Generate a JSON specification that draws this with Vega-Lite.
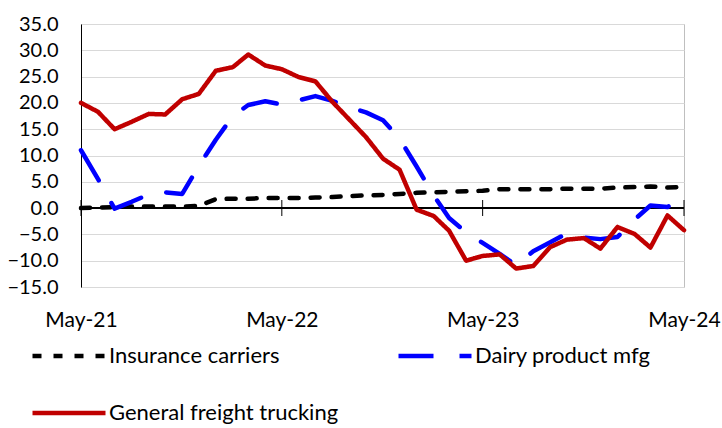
{
  "$schema": "https://vega.github.io/schema/vega-lite/v6.json",
  "width": 603,
  "height": 263,
  "autosize": "none",
  "padding": {"left": 81, "top": 24, "right": 38, "bottom": 141},
  "config": {
    "font": "Lato",
    "view": {"stroke": "#bfbfbf", "strokeWidth": 1},
    "axis": {"labelColor": "#000000", "labelFontSize": 20, "labelFont": "Lato", "labelOverlap": false},
    "axisY": {"labelOverlap": false}
  },
  "data": {
    "values": [
      {"date": "2021-05-01T00:00:00", "series": "Insurance carriers", "value": 0.0},
      {"date": "2021-06-01T00:00:00", "series": "Insurance carriers", "value": 0.1},
      {"date": "2021-07-01T00:00:00", "series": "Insurance carriers", "value": 0.2},
      {"date": "2021-08-01T00:00:00", "series": "Insurance carriers", "value": 0.3},
      {"date": "2021-09-01T00:00:00", "series": "Insurance carriers", "value": 0.3},
      {"date": "2021-10-01T00:00:00", "series": "Insurance carriers", "value": 0.3},
      {"date": "2021-11-01T00:00:00", "series": "Insurance carriers", "value": 0.3},
      {"date": "2021-12-01T00:00:00", "series": "Insurance carriers", "value": 0.4},
      {"date": "2022-01-01T00:00:00", "series": "Insurance carriers", "value": 1.7},
      {"date": "2022-02-01T00:00:00", "series": "Insurance carriers", "value": 1.8},
      {"date": "2022-03-01T00:00:00", "series": "Insurance carriers", "value": 1.8},
      {"date": "2022-04-01T00:00:00", "series": "Insurance carriers", "value": 1.9},
      {"date": "2022-05-01T00:00:00", "series": "Insurance carriers", "value": 1.9},
      {"date": "2022-06-01T00:00:00", "series": "Insurance carriers", "value": 1.9},
      {"date": "2022-07-01T00:00:00", "series": "Insurance carriers", "value": 2.0},
      {"date": "2022-08-01T00:00:00", "series": "Insurance carriers", "value": 2.1},
      {"date": "2022-09-01T00:00:00", "series": "Insurance carriers", "value": 2.3},
      {"date": "2022-10-01T00:00:00", "series": "Insurance carriers", "value": 2.4},
      {"date": "2022-11-01T00:00:00", "series": "Insurance carriers", "value": 2.5},
      {"date": "2022-12-01T00:00:00", "series": "Insurance carriers", "value": 2.7},
      {"date": "2023-01-01T00:00:00", "series": "Insurance carriers", "value": 2.9},
      {"date": "2023-02-01T00:00:00", "series": "Insurance carriers", "value": 3.0},
      {"date": "2023-03-01T00:00:00", "series": "Insurance carriers", "value": 3.1},
      {"date": "2023-04-01T00:00:00", "series": "Insurance carriers", "value": 3.2},
      {"date": "2023-05-01T00:00:00", "series": "Insurance carriers", "value": 3.3},
      {"date": "2023-06-01T00:00:00", "series": "Insurance carriers", "value": 3.6},
      {"date": "2023-07-01T00:00:00", "series": "Insurance carriers", "value": 3.6},
      {"date": "2023-08-01T00:00:00", "series": "Insurance carriers", "value": 3.6},
      {"date": "2023-09-01T00:00:00", "series": "Insurance carriers", "value": 3.6},
      {"date": "2023-10-01T00:00:00", "series": "Insurance carriers", "value": 3.7},
      {"date": "2023-11-01T00:00:00", "series": "Insurance carriers", "value": 3.7},
      {"date": "2023-12-01T00:00:00", "series": "Insurance carriers", "value": 3.7},
      {"date": "2024-01-01T00:00:00", "series": "Insurance carriers", "value": 3.9},
      {"date": "2024-02-01T00:00:00", "series": "Insurance carriers", "value": 4.0},
      {"date": "2024-03-01T00:00:00", "series": "Insurance carriers", "value": 4.1},
      {"date": "2024-04-01T00:00:00", "series": "Insurance carriers", "value": 3.9},
      {"date": "2024-05-01T00:00:00", "series": "Insurance carriers", "value": 4.0},
      {"date": "2021-05-01T00:00:00", "series": "Dairy product mfg", "value": 11.0},
      {"date": "2021-06-01T00:00:00", "series": "Dairy product mfg", "value": 5.5},
      {"date": "2021-07-01T00:00:00", "series": "Dairy product mfg", "value": -0.1},
      {"date": "2021-08-01T00:00:00", "series": "Dairy product mfg", "value": 1.2},
      {"date": "2021-09-01T00:00:00", "series": "Dairy product mfg", "value": 2.6},
      {"date": "2021-10-01T00:00:00", "series": "Dairy product mfg", "value": 3.0},
      {"date": "2021-11-01T00:00:00", "series": "Dairy product mfg", "value": 2.7},
      {"date": "2021-12-01T00:00:00", "series": "Dairy product mfg", "value": 8.0},
      {"date": "2022-01-01T00:00:00", "series": "Dairy product mfg", "value": 13.0},
      {"date": "2022-02-01T00:00:00", "series": "Dairy product mfg", "value": 17.5},
      {"date": "2022-03-01T00:00:00", "series": "Dairy product mfg", "value": 19.6},
      {"date": "2022-04-01T00:00:00", "series": "Dairy product mfg", "value": 20.3},
      {"date": "2022-05-01T00:00:00", "series": "Dairy product mfg", "value": 19.7},
      {"date": "2022-06-01T00:00:00", "series": "Dairy product mfg", "value": 20.5},
      {"date": "2022-07-01T00:00:00", "series": "Dairy product mfg", "value": 21.3},
      {"date": "2022-08-01T00:00:00", "series": "Dairy product mfg", "value": 20.4},
      {"date": "2022-09-01T00:00:00", "series": "Dairy product mfg", "value": 19.2},
      {"date": "2022-10-01T00:00:00", "series": "Dairy product mfg", "value": 18.2},
      {"date": "2022-11-01T00:00:00", "series": "Dairy product mfg", "value": 16.7},
      {"date": "2022-12-01T00:00:00", "series": "Dairy product mfg", "value": 13.2},
      {"date": "2023-01-01T00:00:00", "series": "Dairy product mfg", "value": 7.9},
      {"date": "2023-02-01T00:00:00", "series": "Dairy product mfg", "value": 2.4},
      {"date": "2023-03-01T00:00:00", "series": "Dairy product mfg", "value": -1.9},
      {"date": "2023-04-01T00:00:00", "series": "Dairy product mfg", "value": -4.6},
      {"date": "2023-05-01T00:00:00", "series": "Dairy product mfg", "value": -6.6},
      {"date": "2023-06-01T00:00:00", "series": "Dairy product mfg", "value": -8.7},
      {"date": "2023-07-01T00:00:00", "series": "Dairy product mfg", "value": -10.9},
      {"date": "2023-08-01T00:00:00", "series": "Dairy product mfg", "value": -8.2},
      {"date": "2023-09-01T00:00:00", "series": "Dairy product mfg", "value": -6.5},
      {"date": "2023-10-01T00:00:00", "series": "Dairy product mfg", "value": -4.8},
      {"date": "2023-11-01T00:00:00", "series": "Dairy product mfg", "value": -5.6},
      {"date": "2023-12-01T00:00:00", "series": "Dairy product mfg", "value": -5.9},
      {"date": "2024-01-01T00:00:00", "series": "Dairy product mfg", "value": -5.5},
      {"date": "2024-02-01T00:00:00", "series": "Dairy product mfg", "value": -2.2},
      {"date": "2024-03-01T00:00:00", "series": "Dairy product mfg", "value": 0.5},
      {"date": "2024-04-01T00:00:00", "series": "Dairy product mfg", "value": 0.2},
      {"date": "2024-05-01T00:00:00", "series": "Dairy product mfg", "value": 2.3},
      {"date": "2021-05-01T00:00:00", "series": "General freight trucking", "value": 20.0},
      {"date": "2021-06-01T00:00:00", "series": "General freight trucking", "value": 18.3},
      {"date": "2021-07-01T00:00:00", "series": "General freight trucking", "value": 15.0},
      {"date": "2021-08-01T00:00:00", "series": "General freight trucking", "value": 16.4},
      {"date": "2021-09-01T00:00:00", "series": "General freight trucking", "value": 17.9},
      {"date": "2021-10-01T00:00:00", "series": "General freight trucking", "value": 17.8},
      {"date": "2021-11-01T00:00:00", "series": "General freight trucking", "value": 20.7},
      {"date": "2021-12-01T00:00:00", "series": "General freight trucking", "value": 21.7},
      {"date": "2022-01-01T00:00:00", "series": "General freight trucking", "value": 26.1},
      {"date": "2022-02-01T00:00:00", "series": "General freight trucking", "value": 26.8},
      {"date": "2022-03-01T00:00:00", "series": "General freight trucking", "value": 29.2},
      {"date": "2022-04-01T00:00:00", "series": "General freight trucking", "value": 27.1},
      {"date": "2022-05-01T00:00:00", "series": "General freight trucking", "value": 26.4},
      {"date": "2022-06-01T00:00:00", "series": "General freight trucking", "value": 24.9},
      {"date": "2022-07-01T00:00:00", "series": "General freight trucking", "value": 24.1},
      {"date": "2022-08-01T00:00:00", "series": "General freight trucking", "value": 20.2},
      {"date": "2022-09-01T00:00:00", "series": "General freight trucking", "value": 16.8},
      {"date": "2022-10-01T00:00:00", "series": "General freight trucking", "value": 13.5},
      {"date": "2022-11-01T00:00:00", "series": "General freight trucking", "value": 9.4},
      {"date": "2022-12-01T00:00:00", "series": "General freight trucking", "value": 7.3},
      {"date": "2023-01-01T00:00:00", "series": "General freight trucking", "value": -0.3},
      {"date": "2023-02-01T00:00:00", "series": "General freight trucking", "value": -1.5},
      {"date": "2023-03-01T00:00:00", "series": "General freight trucking", "value": -4.3},
      {"date": "2023-04-01T00:00:00", "series": "General freight trucking", "value": -10.0},
      {"date": "2023-05-01T00:00:00", "series": "General freight trucking", "value": -9.1},
      {"date": "2023-06-01T00:00:00", "series": "General freight trucking", "value": -8.8},
      {"date": "2023-07-01T00:00:00", "series": "General freight trucking", "value": -11.5},
      {"date": "2023-08-01T00:00:00", "series": "General freight trucking", "value": -11.0},
      {"date": "2023-09-01T00:00:00", "series": "General freight trucking", "value": -7.4},
      {"date": "2023-10-01T00:00:00", "series": "General freight trucking", "value": -6.0},
      {"date": "2023-11-01T00:00:00", "series": "General freight trucking", "value": -5.7},
      {"date": "2023-12-01T00:00:00", "series": "General freight trucking", "value": -7.7},
      {"date": "2024-01-01T00:00:00", "series": "General freight trucking", "value": -3.6},
      {"date": "2024-02-01T00:00:00", "series": "General freight trucking", "value": -4.9},
      {"date": "2024-03-01T00:00:00", "series": "General freight trucking", "value": -7.5},
      {"date": "2024-04-01T00:00:00", "series": "General freight trucking", "value": -1.4},
      {"date": "2024-05-01T00:00:00", "series": "General freight trucking", "value": -4.2}
    ]
  },
  "encoding": {
    "y": {
      "type": "quantitative",
      "scale": {"domain": [-15, 35], "nice": false, "zero": false},
      "axis": {
        "title": null,
        "values": [-15, -10, -5, 0, 5, 10, 15, 20, 25, 30, 35],
        "format": ".1f",
        "ticks": false,
        "domain": true,
        "domainColor": "#000000",
        "domainWidth": 1,
        "grid": true,
        "gridColor": "#d9d9d9",
        "gridWidth": 1,
        "labelPadding": 23,
        "labelOverlap": false,
        "labelFontSize": 20
      }
    }
  },
  "layer": [
    {
      "mark": {"type": "rule", "color": "#000000", "strokeWidth": 1},
      "encoding": {"y": {"datum": 0, "type": "quantitative"}}
    },
    {
      "transform": [
        {"filter": {"and": [
          {"field": "series", "equal": "Insurance carriers"},
          {"field": "date", "timeUnit": "month", "equal": "May"}
        ]}}
      ],
      "mark": {"type": "tick", "orient": "vertical", "color": "#000000", "thickness": 1, "size": 16, "opacity": 1},
      "encoding": {
        "x": {"field": "date", "type": "temporal"},
        "y": {"datum": 0, "type": "quantitative"}
      }
    },
    {
      "mark": {"type": "line", "strokeWidth": 4.5, "strokeCap": "round", "strokeJoin": "round"},
      "encoding": {
        "x": {
          "field": "date",
          "type": "temporal",
          "scale": {"domain": [{"year": 2021, "month": 5, "date": 1}, {"year": 2024, "month": 5, "date": 1}], "nice": false},
          "axis": {
            "title": null,
            "domain": false,
            "ticks": false,
            "grid": false,
            "format": "%b-%y",
            "values": [
              {"year": 2021, "month": 5, "date": 1},
              {"year": 2022, "month": 5, "date": 1},
              {"year": 2023, "month": 5, "date": 1},
              {"year": 2024, "month": 5, "date": 1}
            ],
            "labelPadding": 22,
            "labelFontSize": 21,
            "labelFlush": false,
            "labelOverlap": false
          }
        },
        "y": {"field": "value", "type": "quantitative"},
        "color": {
          "field": "series",
          "type": "nominal",
          "sort": null,
          "scale": {
            "domain": ["Insurance carriers", "Dairy product mfg", "General freight trucking"],
            "range": ["#000000", "#0000ff", "#c00000"]
          },
          "legend": {
            "title": null,
            "orient": "none",
            "legendX": -51,
            "legendY": 293,
            "direction": "horizontal",
            "columns": 2,
            "columnPadding": 50,
            "rowPadding": 7,
            "symbolType": "stroke",
            "symbolSize": 5329,
            "symbolStrokeWidth": 4.5,
            "labelFontSize": 22,
            "labelLimit": 400,
            "labelOffset": 1,
            "labelColor": "#000000",
            "labelFont": "Lato"
          }
        },
        "strokeDash": {
          "field": "series",
          "type": "nominal",
          "sort": null,
          "scale": {
            "domain": ["Insurance carriers", "Dairy product mfg", "General freight trucking"],
            "range": [[9, 12], [35, 26], [1, 0]]
          },
          "legend": {
            "title": null,
            "orient": "none",
            "legendX": -51,
            "legendY": 293,
            "direction": "horizontal",
            "columns": 2,
            "columnPadding": 50,
            "rowPadding": 7,
            "symbolType": "stroke",
            "symbolSize": 5329,
            "symbolStrokeWidth": 4.5,
            "labelFontSize": 22,
            "labelLimit": 400,
            "labelOffset": 1,
            "labelColor": "#000000",
            "labelFont": "Lato"
          }
        }
      }
    }
  ]
}
